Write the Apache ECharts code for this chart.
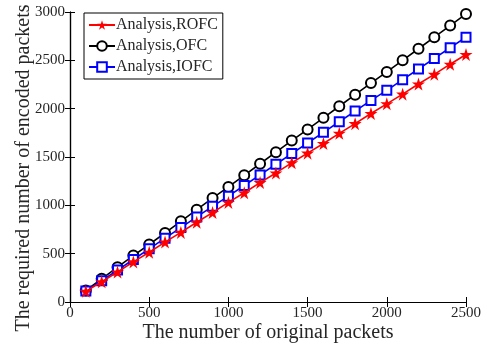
<!DOCTYPE html>
<html>
<head>
<meta charset="utf-8">
<script src="https://cdn.jsdelivr.net/npm/echarts@6/dist/echarts.min.js"></script>
<style>
  html, body { margin: 0; padding: 0; background: #fff; }
  #chart { width: 487px; height: 348px; }
</style>
</head>
<body>
<div id="chart"></div>
<script>
// Number of original packets (x values)
const originalPackets = [100, 200, 300, 400, 500, 600, 700, 800, 900, 1000,
  1100, 1200, 1300, 1400, 1500, 1600, 1700, 1800, 1900, 2000,
  2100, 2200, 2300, 2400, 2500];

// Required number of encoded packets for each scheme
const rofc = [110, 210, 310, 415, 515, 620, 720, 825, 925, 1030,
  1130, 1235, 1335, 1440, 1540, 1640, 1745, 1845, 1950, 2050,
  2150, 2255, 2355, 2460, 2560];
const ofc = [120, 240, 360, 480, 595, 715, 835, 955, 1075, 1190,
  1310, 1430, 1550, 1670, 1785, 1905, 2025, 2145, 2265, 2380,
  2500, 2620, 2740, 2860, 2980];
const iofc = [115, 220, 330, 440, 550, 660, 770, 880, 990, 1095,
  1205, 1315, 1425, 1535, 1645, 1755, 1865, 1975, 2085, 2190,
  2300, 2410, 2520, 2630, 2740];

const xTicks = [0, 500, 1000, 1500, 2000, 2500];
const yTicks = [0, 500, 1000, 1500, 2000, 2500, 3000];

const seriesNames = ['Analysis,ROFC', 'Analysis,OFC', 'Analysis,IOFC'];
const xTitle = 'The number of original packets';
const yTitle = 'The required number of encoded packets';

const FONT = 'Liberation Serif';
const TEXT = '#262626';
const STAR = 'path://M50,0 L61.2,34.5 L97.6,34.5 L68.2,55.9 L79.4,90.5 L50,69.1 L20.6,90.5 L31.8,55.9 L2.4,34.5 L38.8,34.5 Z';

const pairs = ys => originalPackets.map((x, i) => [x, ys[i]]);

const chart = echarts.init(document.getElementById('chart'), null, { renderer: 'canvas' });

const tickCommon = { show: true, inside: true, length: 5, lineStyle: { color: '#000', width: 1 } };
const lineCommon = { show: true, lineStyle: { color: '#000', width: 1.2 } };

chart.setOption({
  animation: false,
  backgroundColor: '#fff',
  grid: { left: 70, right: 21, top: 12, bottom: 46, containLabel: false, outerBoundsMode: 'none' },
  // Axis titles as free text so their positions are fixed
  graphic: [
    {
      type: 'text',
      x: 24, y: 168,
      rotation: Math.PI / 2,
      style: {
        text: yTitle,
        fontFamily: FONT, fontSize: 20, fill: TEXT,
        align: 'center', verticalAlign: 'middle'
      }
    },
    {
      type: 'text',
      x: 268, y: 333,
      style: {
        text: xTitle,
        fontFamily: FONT, fontSize: 20, fill: TEXT,
        align: 'center', verticalAlign: 'middle'
      }
    }
  ],
  legend: {
    data: seriesNames,
    orient: 'vertical',
    left: 84,
    top: 13,
    itemGap: 5,
    itemWidth: 26,
    itemHeight: 12,
    padding: [4, 5, 4, 4],
    backgroundColor: '#fff',
    borderColor: '#000',
    borderWidth: 1,
    textStyle: { fontFamily: FONT, fontSize: 16, color: TEXT, padding: [0, 0, 0, -4] }
  },
  xAxis: [
    {
      type: 'value', min: 0, max: 2500, interval: 500,
      axisLine: lineCommon, axisTick: tickCommon,
      axisLabel: { fontFamily: FONT, fontSize: 15, color: TEXT, margin: 4,
        formatter: v => xTicks.includes(v) ? String(v) : '' },
      splitLine: { show: false }
    },
    {
      type: 'value', position: 'top', min: 0, max: 2500, interval: 500,
      axisLine: lineCommon, axisTick: tickCommon,
      axisLabel: { show: false }, splitLine: { show: false }
    }
  ],
  yAxis: [
    {
      type: 'value', min: 0, max: 3000, interval: 500,
      axisLine: lineCommon, axisTick: tickCommon,
      axisLabel: { fontFamily: FONT, fontSize: 15, color: TEXT, margin: 5,
        formatter: v => yTicks.includes(v) ? String(v) : '' },
      splitLine: { show: false }
    },
    {
      type: 'value', position: 'right', min: 0, max: 3000, interval: 500,
      axisLine: lineCommon, axisTick: tickCommon,
      axisLabel: { show: false }, splitLine: { show: false }
    }
  ],
  series: [
    {
      name: seriesNames[0], type: 'line', data: pairs(rofc),
      symbol: STAR, symbolSize: 13, showAllSymbol: true,
      lineStyle: { color: '#ff0000', width: 1.6 },
      itemStyle: { color: '#ff0000', borderColor: '#ff0000', borderWidth: 0 },
      z: 3
    },
    {
      name: seriesNames[1], type: 'line', data: pairs(ofc),
      symbol: 'emptyCircle', symbolSize: 10, showAllSymbol: true,
      lineStyle: { color: '#000', width: 1.6 },
      itemStyle: { color: '#000', borderColor: '#000', borderWidth: 1.5 },
      z: 2
    },
    {
      name: seriesNames[2], type: 'line', data: pairs(iofc),
      symbol: 'emptyRect', symbolSize: 9, showAllSymbol: true,
      lineStyle: { color: '#0000ff', width: 1.6 },
      itemStyle: { color: '#0000ff', borderColor: '#0000ff', borderWidth: 1.5 },
      z: 2
    }
  ]
});
</script>
</body>
</html>
